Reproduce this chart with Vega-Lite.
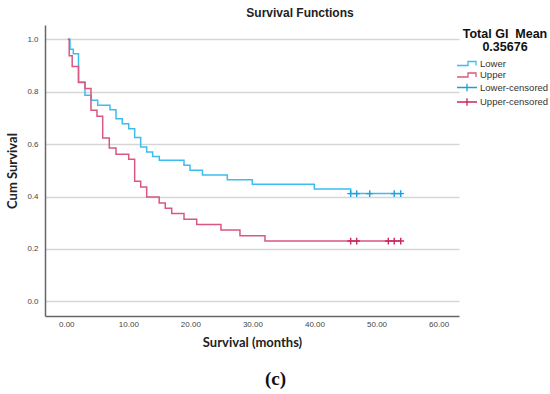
{
  "$schema": "https://vega.github.io/schema/vega-lite/v6.json",
  "width": 414,
  "height": 291,
  "autosize": {"type": "none"},
  "padding": {"left": 45, "top": 25, "right": 91, "bottom": 78},
  "background": "white",
  "title": {"text": "Survival Functions", "font": "Liberation Sans", "fontSize": 12, "fontWeight": "bold", "color": "#222222", "anchor": "middle", "dx": 48, "offset": 5},
  "config": {"view": {"stroke": null}},
  "datasets": {
    "curves": [
      {"series": "Lower", "t": 0.25, "s": 1.0},
      {"series": "Lower", "t": 0.6, "s": 0.962},
      {"series": "Lower", "t": 1.13, "s": 0.945},
      {"series": "Lower", "t": 1.97, "s": 0.837},
      {"series": "Lower", "t": 3.01, "s": 0.786},
      {"series": "Lower", "t": 4.03, "s": 0.767},
      {"series": "Lower", "t": 5.06, "s": 0.748},
      {"series": "Lower", "t": 7.04, "s": 0.731},
      {"series": "Lower", "t": 8.01, "s": 0.697},
      {"series": "Lower", "t": 9.02, "s": 0.678},
      {"series": "Lower", "t": 10.06, "s": 0.659},
      {"series": "Lower", "t": 11.02, "s": 0.625},
      {"series": "Lower", "t": 11.99, "s": 0.589},
      {"series": "Lower", "t": 12.96, "s": 0.570},
      {"series": "Lower", "t": 13.92, "s": 0.553},
      {"series": "Lower", "t": 14.99, "s": 0.538},
      {"series": "Lower", "t": 18.97, "s": 0.519},
      {"series": "Lower", "t": 19.94, "s": 0.500},
      {"series": "Lower", "t": 21.95, "s": 0.482},
      {"series": "Lower", "t": 25.95, "s": 0.464},
      {"series": "Lower", "t": 29.98, "s": 0.447},
      {"series": "Lower", "t": 39.97, "s": 0.429},
      {"series": "Lower", "t": 45.83, "s": 0.411},
      {"series": "Lower", "t": 53.9, "s": 0.411},
      {"series": "Upper", "t": 0.25, "s": 1.0},
      {"series": "Upper", "t": 0.47, "s": 0.937},
      {"series": "Upper", "t": 0.95, "s": 0.896},
      {"series": "Upper", "t": 1.97, "s": 0.835},
      {"series": "Upper", "t": 3.01, "s": 0.812},
      {"series": "Upper", "t": 3.98, "s": 0.729},
      {"series": "Upper", "t": 4.95, "s": 0.706},
      {"series": "Upper", "t": 5.87, "s": 0.623},
      {"series": "Upper", "t": 6.93, "s": 0.585},
      {"series": "Upper", "t": 8.01, "s": 0.561},
      {"series": "Upper", "t": 10.06, "s": 0.542},
      {"series": "Upper", "t": 11.02, "s": 0.458},
      {"series": "Upper", "t": 11.99, "s": 0.436},
      {"series": "Upper", "t": 12.96, "s": 0.398},
      {"series": "Upper", "t": 14.97, "s": 0.375},
      {"series": "Upper", "t": 15.95, "s": 0.355},
      {"series": "Upper", "t": 16.99, "s": 0.335},
      {"series": "Upper", "t": 18.97, "s": 0.313},
      {"series": "Upper", "t": 21.02, "s": 0.293},
      {"series": "Upper", "t": 24.93, "s": 0.272},
      {"series": "Upper", "t": 27.99, "s": 0.250},
      {"series": "Upper", "t": 32.02, "s": 0.230},
      {"series": "Upper", "t": 53.9, "s": 0.230}
    ],
    "censored": [
      {"series": "Lower-censored", "t": 45.83, "s": 0.411},
      {"series": "Lower-censored", "t": 46.8, "s": 0.411},
      {"series": "Lower-censored", "t": 48.9, "s": 0.411},
      {"series": "Lower-censored", "t": 52.85, "s": 0.411},
      {"series": "Lower-censored", "t": 53.9, "s": 0.411},
      {"series": "Upper-censored", "t": 45.83, "s": 0.230},
      {"series": "Upper-censored", "t": 46.8, "s": 0.230},
      {"series": "Upper-censored", "t": 51.9, "s": 0.230},
      {"series": "Upper-censored", "t": 52.85, "s": 0.230},
      {"series": "Upper-censored", "t": 53.9, "s": 0.230}
    ]
  },
  "layer": [
    {
      "layer": [
        {
          "data": {"name": "curves"},
          "mark": {"type": "line", "interpolate": "step-after", "strokeWidth": 1.5},
          "encoding": {
            "x": {"field": "t", "type": "quantitative",
              "scale": {"domain": [-3.43, 63.29], "nice": false, "zero": false},
              "axis": {"values": [0, 10, 20, 30, 40, 50, 60], "format": ".2f", "title": "Survival (months)",
                "titleFont": "Lato", "titleFontSize": 13, "titleFontWeight": "bold", "titleColor": "#222222", "titlePadding": 8,
                "labelFont": "Liberation Sans", "labelFontSize": 8, "labelColor": "#444444", "labelPadding": 4,
                "ticks": false, "grid": false, "domainColor": "#666666", "domainWidth": 1.5}},
            "y": {"field": "s", "type": "quantitative",
              "scale": {"domain": [-0.0561, 1.0546], "nice": false, "zero": false},
              "axis": {"values": [0, 0.2, 0.4, 0.6, 0.8, 1.0], "format": ".1f", "title": "Cum Survival",
                "titleFont": "Lato", "titleFontSize": 13, "titleFontWeight": "bold", "titleColor": "#222222", "titlePadding": 7,
                "labelFont": "Liberation Sans", "labelFontSize": 8, "labelColor": "#444444", "labelPadding": 7,
                "ticks": false, "grid": true, "gridColor": "#d6d6d6", "gridWidth": 1.5, "domainColor": "#666666", "domainWidth": 1.5}},
            "color": {"field": "series", "type": "nominal",
              "scale": {"domain": ["Lower", "Upper", "Lower-censored", "Upper-censored"], "range": ["#3dbdee", "#d9587f", "#1e9fdc", "#c8285c"]},
              "legend": {"orient": "none", "legendX": 416, "legendY": 3, "padding": 0,
                "title": ["Total GI\u00a0 Mean", "0.35676"], "titleFont": "Liberation Sans", "titleFontSize": 12.5, "titleFontWeight": "bold", "titleColor": "#111111",
                "titleAnchor": "middle", "titleAlign": "center", "titleLineHeight": 13, "titlePadding": 4,
                "labelFont": "Liberation Sans", "labelFontSize": 9.5, "labelColor": "#333333", "labelOffset": 7,
                "symbolSize": 100, "symbolStrokeWidth": 1.3, "rowPadding": 0.5,
                "encode": {"symbols": {"update": {
                  "shape": {"signal": "indexof(['Lower','Upper'], datum.value) >= 0 ? 'M-2,0.4H0.2V-0.4H1.8V0.4' : 'M-2,0H2M0,-0.75V0.75'"},
                  "fill": {"value": "transparent"},
                  "opacity": {"value": 1}}}}}}
          }
        },
        {
          "data": {"name": "censored"},
          "mark": {"type": "point", "shape": "M-1,0H1M0,-1V1", "filled": false, "size": 45, "strokeWidth": 1.4, "opacity": 1},
          "encoding": {
            "x": {"field": "t", "type": "quantitative", "scale": {"domain": [-3.43, 63.29], "nice": false, "zero": false}},
            "y": {"field": "s", "type": "quantitative", "scale": {"domain": [-0.0561, 1.0546], "nice": false, "zero": false}},
            "color": {"field": "series", "type": "nominal"}
          }
        }
      ]
    },
    {
      "data": {"name": "censored"},
      "mark": {"type": "point", "opacity": 0},
      "encoding": {
        "x": {"field": "t", "type": "quantitative",
          "scale": {"domain": [-3.43, 63.29], "nice": false, "zero": false},
          "axis": {"orient": "bottom", "title": "(c)", "labels": false, "ticks": false, "domain": false, "grid": false,
            "titleFont": "Liberation Serif", "titleFontSize": 19, "titleFontWeight": "bold", "titleColor": "#111111",
            "titleX": 230, "titleY": 62, "titleBaseline": "middle", "titleAlign": "center"}}
      }
    }
  ],
  "resolve": {"scale": {"x": "independent"}, "axis": {"x": "independent"}}
}
